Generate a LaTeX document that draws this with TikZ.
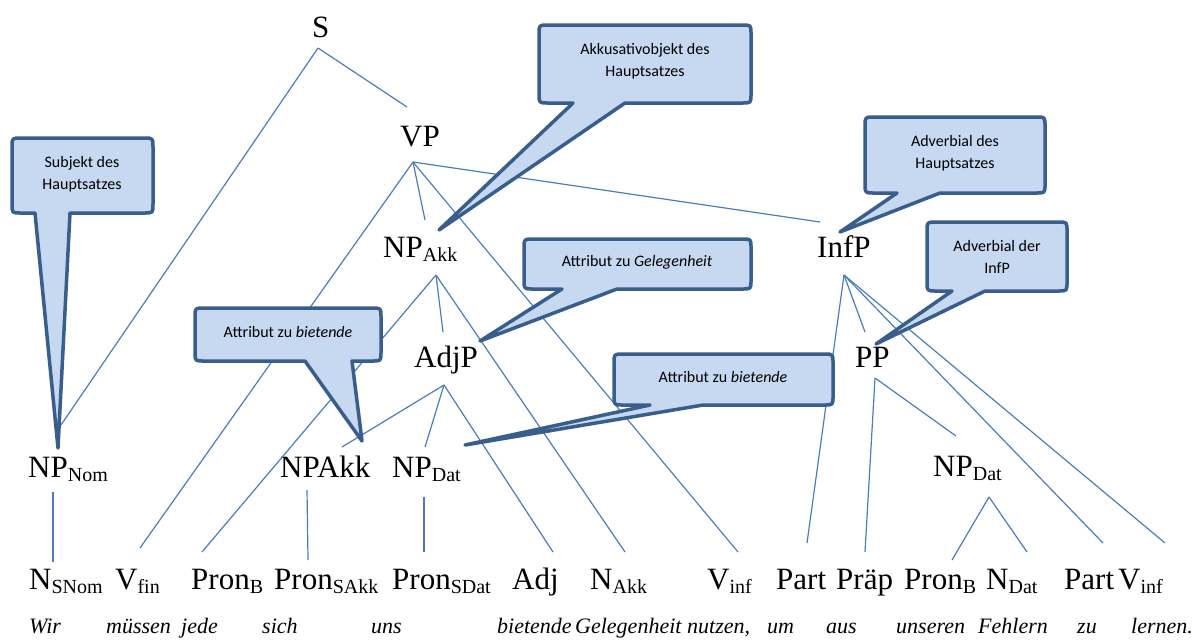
\documentclass[tikz,border=0pt]{standalone}
\usepackage{fontspec}
\setmainfont{Liberation Serif}
\newfontfamily\calibrifont{Carlito}
\definecolor{treeblue}{HTML}{4A7EBB}
\definecolor{bubblefill}{HTML}{C6D9F1}
\definecolor{bubbleline}{HTML}{3A5E8C}
% lowered subscript for category labels
\newcommand\lsub[1]{\raisebox{-4pt}{\fontsize{20}{20}\selectfont #1}}
% speech bubble: left, top, right, bottom, tail base left x, tail base right x, tip x, tip y
\newcommand\bubble[8]{%
  \path[bubble] ({#1+9},#2) -- ({#3-9},#2) .. controls (#3,#2) .. (#3,{#2+9})
    -- (#3,{#4-9}) .. controls (#3,#4) .. ({#3-9},#4)
    -- (#6,#4) -- (#7,#8) -- (#5,#4)
    -- ({#1+9},#4) .. controls (#1,#4) .. (#1,{#4-9})
    -- (#1,{#2+9}) .. controls (#1,#2) .. ({#1+9},#2) -- cycle;}
\begin{document}
\begin{tikzpicture}[x=1pt,y=-1pt,
  lab/.style={anchor=base west, inner sep=0pt, font=\fontsize{31}{31}\selectfont},
  word/.style={anchor=base west, inner sep=0pt, font=\fontsize{22}{22}\selectfont\itshape},
  edge/.style={draw=treeblue, line width=1.2pt},
  bubble/.style={fill=bubblefill, draw=bubbleline, line width=3.5pt, line join=round},
  btext/.style={align=center, inner sep=0pt, font=\calibrifont\fontsize{16}{22}\selectfont}]
\useasboundingbox (0,0) rectangle (1198,641);

% category labels
\node[lab] (S) at (312,37) {S};
\node[lab] (VP) at (400,146) {VP};
\node[lab] (NPAkk) at (383,257) {NP\lsub{Akk}};
\node[lab] (AdjP) at (414,367) {AdjP};
\node[lab] (InfP) at (817,257) {InfP};
\node[lab] (PP) at (855,367) {PP};
\node[lab] (NPNom) at (28,477) {NP\lsub{Nom}};
\node[lab] (NPAkkB) at (280,477) {NPAkk};
\node[lab] (NPDatA) at (392,477) {NP\lsub{Dat}};
\node[lab] (NPDatB) at (933,476) {NP\lsub{Dat}};

% word classes
\node[lab] (NSNom) at (29,589) {N\lsub{SNom}};
\node[lab] (Vfin) at (115,589) {V\lsub{fin}};
\node[lab] (PronBa) at (191,589) {Pron\lsub{B}};
\node[lab] (PronSAkk) at (274,589) {Pron\lsub{SAkk}};
\node[lab] (PronSDat) at (392,589) {Pron\lsub{SDat}};
\node[lab] (Adj) at (512,589) {Adj};
\node[lab] (NAkk) at (590,589) {N\lsub{Akk}};
\node[lab] (VinfA) at (707,589) {V\lsub{inf}};
\node[lab] (PartA) at (776,589) {Part};
\node[lab] (Praep) at (836,589) {Präp};
\node[lab] (PronBb) at (904,589) {Pron\lsub{B}};
\node[lab] (NDat) at (986,589) {N\lsub{Dat}};
\node[lab] (PartB) at (1064,589) {Part};
\node[lab] (VinfB) at (1118,589) {V\lsub{inf}};

% sentence
\node[word] (w1) at (29,633) {Wir};
\node[word] (w2) at (106,633) {müssen};
\node[word] (w3) at (181,633) {jede};
\node[word] (w4) at (262,633) {sich};
\node[word] (w5) at (371,633) {uns};
\node[word] (w6) at (497,633) {bietende};
\node[word] (w7) at (575,633) {Gelegenheit};
\node[word] (w8) at (687,633) {nutzen,};
\node[word] (w9) at (767,633) {um};
\node[word] (w10) at (826,633) {aus};
\node[word] (w11) at (896,633) {unseren};
\node[word] (w12) at (978,633) {Fehlern};
\node[word] (w13) at (1077,633) {zu};
\node[word] (w14) at (1131,633) {lernen.};

% attachment points of the branches
\coordinate (S-b) at (318,48);
\coordinate (VP-t) at (407,107);
\coordinate (NPNom-t) at (61,425);
\coordinate (VP-b) at (413,162);
\coordinate (NPAkk-t) at (425,220);
\coordinate (Vfin-t) at (140,548);
\coordinate (VinfA-t) at (738,552);
\coordinate (InfP-t) at (820,222);
\coordinate (NPAkk-b) at (436,275);
\coordinate (PronBa-t) at (202,552);
\coordinate (AdjP-t) at (443,332);
\coordinate (NAkk-t) at (625,552);
\coordinate (AdjP-b) at (444,385);
\coordinate (NPAkkB-t) at (342,447);
\coordinate (NPDatA-t) at (425,447);
\coordinate (Adj-t) at (553,552);
\coordinate (NPNom-b) at (53,492);
\coordinate (NSNom-t) at (53,562);
\coordinate (NPAkkB-b) at (307,490);
\coordinate (PronSAkk-t) at (308,560);
\coordinate (NPDatA-b) at (424,497);
\coordinate (PronSDat-t) at (424,552);
\coordinate (InfP-b) at (844,275);
\coordinate (PartA-t) at (807,543);
\coordinate (PP-t) at (865,332);
\coordinate (PartB-t) at (1103,543);
\coordinate (VinfB-t) at (1165,543);
\coordinate (PP-b) at (875,378);
\coordinate (Praep-t) at (865,552);
\coordinate (NPDatB-t) at (956,436);
\coordinate (NPDatB-b) at (989,497);
\coordinate (PronBb-t) at (952,560);
\coordinate (NDat-t) at (1027,552);

% branches
\draw[edge] (S-b) -- (VP-t);
\draw[edge] (S-b) -- (NPNom-t);
\draw[edge] (VP-b) -- (NPAkk-t);
\draw[edge] (VP-b) -- (Vfin-t);
\draw[edge] (VP-b) -- (VinfA-t);
\draw[edge] (VP-b) -- (InfP-t);
\draw[edge] (NPAkk-b) -- (PronBa-t);
\draw[edge] (NPAkk-b) -- (AdjP-t);
\draw[edge] (NPAkk-b) -- (NAkk-t);
\draw[edge] (AdjP-b) -- (NPAkkB-t);
\draw[edge] (AdjP-b) -- (NPDatA-t);
\draw[edge] (AdjP-b) -- (Adj-t);
\draw[edge] (NPNom-b) -- (NSNom-t);
\draw[edge] (NPAkkB-b) -- (PronSAkk-t);
\draw[edge, line width=2pt] (NPDatA-b) -- (PronSDat-t);
\draw[edge] (InfP-b) -- (PartA-t);
\draw[edge] (InfP-b) -- (PP-t);
\draw[edge] (InfP-b) -- (PartB-t);
\draw[edge] (InfP-b) -- (VinfB-t);
\draw[edge] (PP-b) -- (Praep-t);
\draw[edge] (PP-b) -- (NPDatB-t);
\draw[edge] (NPDatB-b) -- (PronBb-t);
\draw[edge] (NPDatB-b) -- (NDat-t);

% speech bubbles
\bubble{12}{138}{153}{213}{35}{70}{58}{448}
\bubble{539}{25}{751}{103}{573}{625}{439}{230}
\bubble{524}{239}{751}{289}{562}{617}{480}{341}
\bubble{195}{308}{381}{361}{305}{352}{362}{441}
\bubble{614}{354}{833}{405}{650}{703}{465}{445}
\bubble{865}{117}{1045}{193}{897}{940}{840}{232}
\bubble{927}{222}{1067}{291}{952}{985}{876}{344}

\node[btext] (b1) at (82,174) {Subjekt des\\Hauptsatzes};
\node[btext] (b2) at (645,61) {Akkusativobjekt des\\Hauptsatzes};
\node[btext] (b3) at (637,262) {Attribut zu \textit{Gelegenheit}};
\node[btext] (b4) at (288,332) {Attribut zu \textit{bietende}};
\node[btext] (b5) at (723,377) {Attribut zu \textit{bietende}};
\node[btext] (b6) at (955,153) {Adverbial des\\Hauptsatzes};
\node[btext] (b7) at (997,257) {Adverbial der\\InfP};
\end{tikzpicture}
\end{document}
